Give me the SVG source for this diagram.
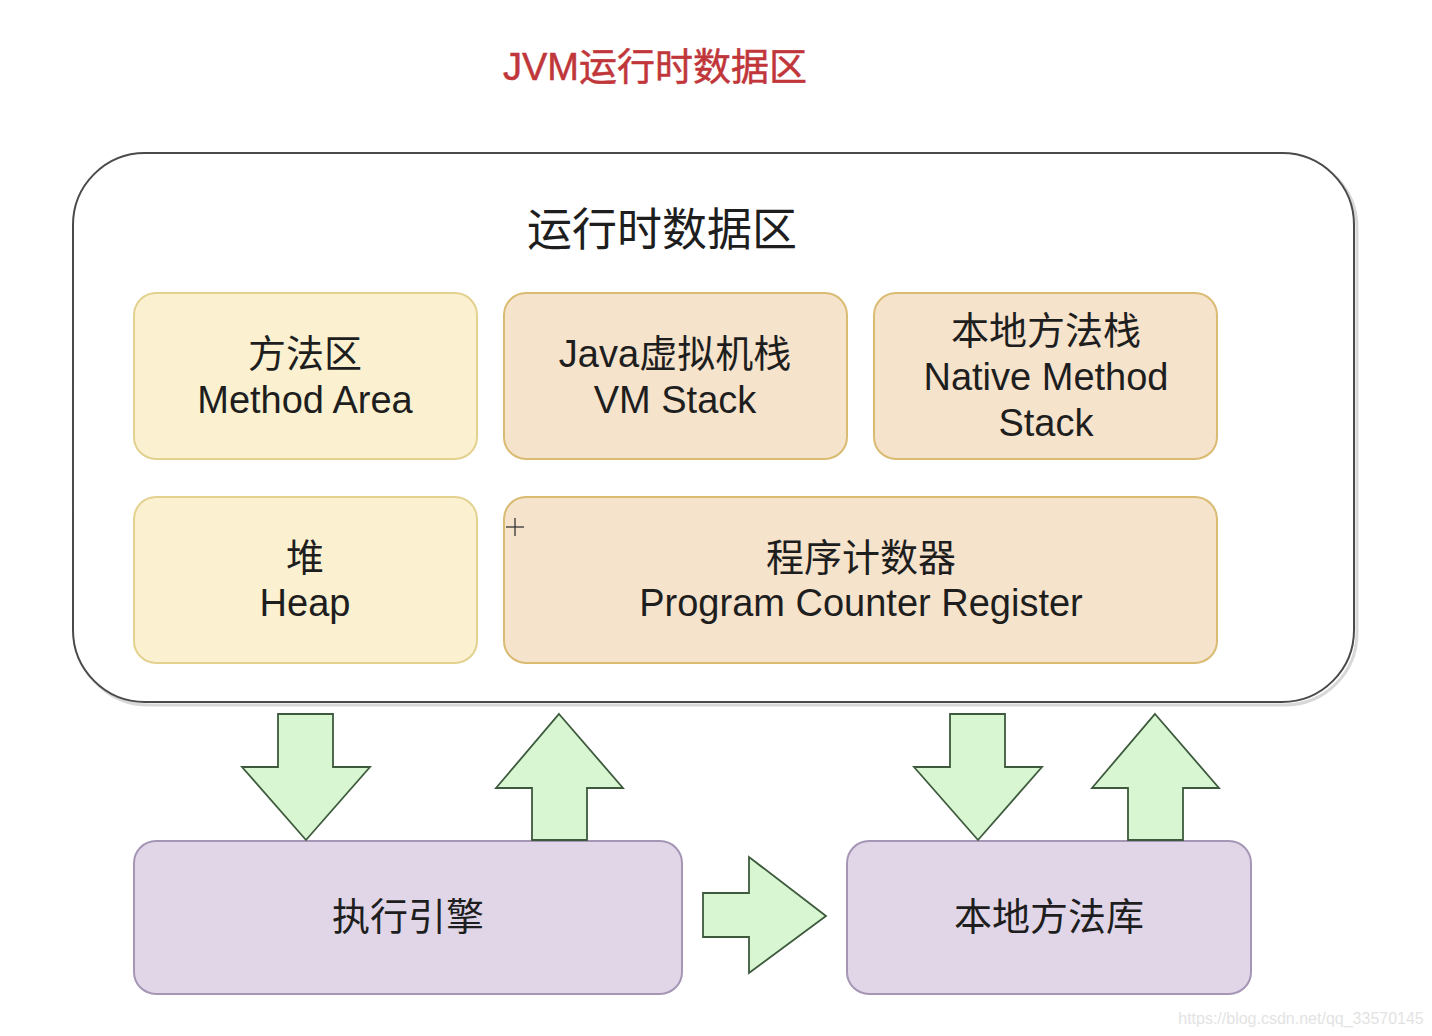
<svg xmlns="http://www.w3.org/2000/svg" width="1432" height="1036" viewBox="0 0 1432 1036">
<style>
.t{font-family:"Liberation Sans","Noto Sans CJK SC",sans-serif;fill:#1e1e1e;text-anchor:middle}
.yl{fill:#fbf1d1;stroke:#e3d28f;stroke-width:2}
.or{fill:#f6e3cc;stroke:#d9bb72;stroke-width:2}
.pu{fill:#e1d6e8;stroke:#a596b6;stroke-width:2}
.ar{fill:#d8f6d1;stroke:#3d5a3d;stroke-width:1.8;stroke-linejoin:miter}
</style>
<rect width="1432" height="1036" fill="#ffffff"/>
<text x="655" y="80" class="t" style="fill:#c0363a;font-size:38px;stroke:#c0363a;stroke-width:0.5">JVM运行时数据区</text>
<g id="runtime-area">
<rect x="76" y="156" width="1281" height="549" rx="72" fill="none" stroke="#d8d8d8" stroke-width="3"/>
<rect x="73" y="153" width="1281" height="549" rx="72" fill="#ffffff" stroke="#4a4a4a" stroke-width="2"/>
<text x="662" y="246" class="t" style="font-size:45px">运行时数据区</text>
</g>
<g id="method-area">
<rect x="134" y="293" width="343" height="166" rx="22" class="yl"/>
<text class="t" style="font-size:38px"><tspan x="305" y="367">方法区</tspan><tspan x="305" y="413">Method Area</tspan></text>
</g>
<g id="vm-stack">
<rect x="504" y="293" width="343" height="166" rx="22" class="or"/>
<text class="t" style="font-size:38px"><tspan x="675" y="367">Java虚拟机栈</tspan><tspan x="675" y="413">VM Stack</tspan></text>
</g>
<g id="native-stack">
<rect x="874" y="293" width="343" height="166" rx="22" class="or"/>
<text class="t" style="font-size:38px"><tspan x="1046" y="344">本地方法栈</tspan><tspan x="1046" y="390">Native Method</tspan><tspan x="1046" y="436">Stack</tspan></text>
</g>
<g id="heap">
<rect x="134" y="497" width="343" height="166" rx="22" class="yl"/>
<text class="t" style="font-size:38px"><tspan x="305" y="571">堆</tspan><tspan x="305" y="616">Heap</tspan></text>
</g>
<g id="pc-register">
<rect x="504" y="497" width="713" height="166" rx="22" class="or"/>
<text class="t" style="font-size:38px"><tspan x="861" y="571">程序计数器</tspan><tspan x="861" y="616">Program Counter Register</tspan></text>
</g>
<g id="execution-engine">
<rect x="134" y="841" width="548" height="153" rx="22" class="pu"/>
<text x="408" y="930" class="t" style="font-size:38px">执行引擎</text>
</g>
<g id="native-library">
<rect x="847" y="841" width="404" height="153" rx="22" class="pu"/>
<text x="1049" y="930" class="t" style="font-size:38px">本地方法库</text>
</g>
<g id="connectors">
<polygon class="ar" points="278,714 333,714 333,767 370,767 306,840 242,767 278,767"/>
<polygon class="ar" points="559,714 623,788 587,788 587,840 532,840 532,788 496,788"/>
<polygon class="ar" points="950,714 1005,714 1005,767 1042,767 978,840 914,767 950,767"/>
<polygon class="ar" points="1155,714 1219,788 1183,788 1183,840 1128,840 1128,788 1092,788"/>
<polygon class="ar" points="703,893 749,893 749,857 826,916 749,973 749,937 703,937"/>
</g>
<g id="cursor" stroke="#333" stroke-width="1.3">
<line x1="506" y1="527" x2="524" y2="527"/>
<line x1="515" y1="518" x2="515" y2="536"/>
</g>
<text x="1301" y="1024" style="font-family:'Liberation Sans',sans-serif;font-size:16px;fill:#e3e3e3;text-anchor:middle">https://blog.csdn.net/qq_33570145</text>
</svg>
